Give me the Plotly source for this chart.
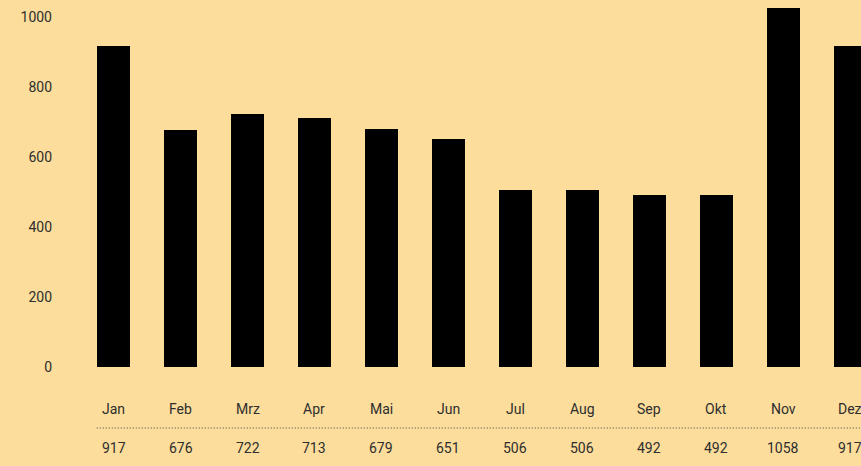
import plotly.graph_objects as go

# Monthly totals
months = ["Jan", "Feb", "Mrz", "Apr", "Mai", "Jun", "Jul", "Aug", "Sep", "Okt", "Nov", "Dez"]
values = [917, 676, 722, 713, 679, 651, 506, 506, 492, 492, 1058, 917]
y_ticks = [0, 200, 400, 600, 800, 1000]

bg = "#FCDD9B"
text_col = "#2e2e2e"
font_family = "Roboto, 'DejaVu Sans', sans-serif"

fig = go.Figure(
    go.Bar(
        x=list(range(len(months))),
        y=values,
        width=0.49,
        marker=dict(color="#000000", line=dict(width=0)),
        hoverinfo="skip",
    )
)

# Month names and values in a small table under the bars
for i, (m, v) in enumerate(zip(months, values)):
    fig.add_annotation(x=i, y=-0.117, xref="x", yref="paper", text=m,
                       showarrow=False, yanchor="middle", xanchor="center",
                       font=dict(size=14, color=text_col, family=font_family))
    fig.add_annotation(x=i, y=-0.226, xref="x", yref="paper", text=str(v),
                       showarrow=False, yanchor="middle", xanchor="center",
                       font=dict(size=14, color=text_col, family=font_family))

# Dotted separator between the two rows
fig.add_shape(type="line", xref="x", yref="paper",
              x0=-0.25, x1=11.6, y0=-0.170, y1=-0.170,
              line=dict(color="#444444", width=1, dash="1px,2px"))

fig.update_layout(
    width=861,
    height=466,
    margin=dict(l=80, r=0, t=8, b=99),
    paper_bgcolor=bg,
    plot_bgcolor=bg,
    showlegend=False,
    bargap=0,
    xaxis=dict(range=[-0.5, 11.157], showticklabels=False, showgrid=False,
               zeroline=False, showline=False, ticks=""),
    yaxis=dict(range=[0, 1026], tickvals=y_ticks, showgrid=False, zeroline=False,
               showline=False, ticks="", ticklabelstandoff=27,
               tickfont=dict(size=14, color=text_col, family=font_family)),
)

fig.write_html("out.html")
